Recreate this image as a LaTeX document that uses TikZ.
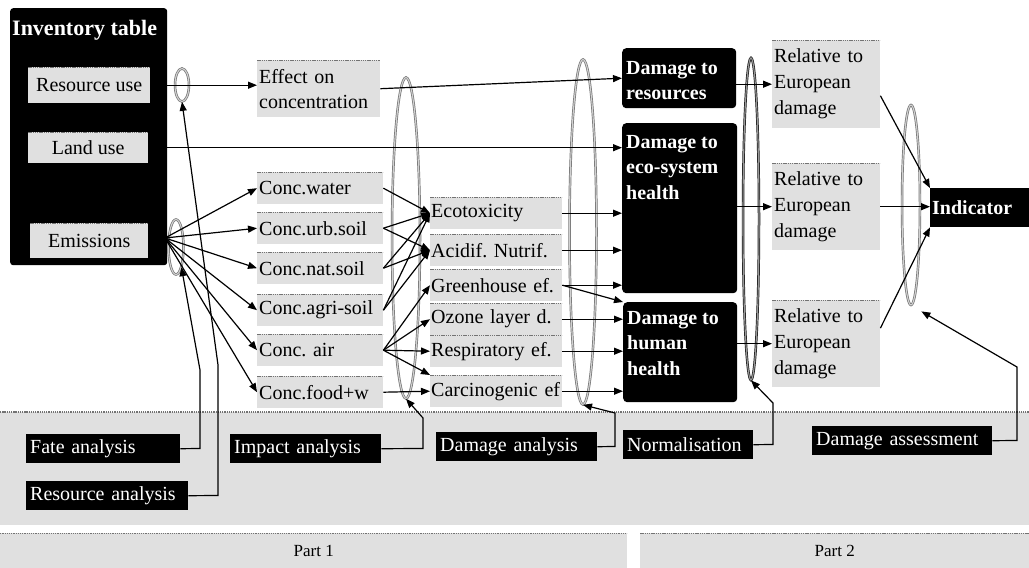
\documentclass[tikz,border=0pt]{standalone}
\usepackage{fontspec}
\setmainfont{Liberation Serif}
\usetikzlibrary{arrows.meta,shapes.geometric}
\frenchspacing
\newcommand\ftxt{\fontsize{20}{25}\selectfont}
\newcommand\frel{\fontsize{20}{26}\selectfont}
\newcommand\fbld{\fontsize{20}{25.5}\selectfont\bfseries}
\newcommand\flab{\fontsize{20}{24}\selectfont}
\newcommand\fpart{\fontsize{17}{20}\selectfont}
\begin{document}
\begin{tikzpicture}[x=1pt,y=-1pt,
  ln/.style={line width=1.2pt},
  ar/.style={ln,-{Triangle[length=9pt,width=7pt]}},
  tex/.style={draw=black!55,line width=1.6pt,dash pattern=on 1.3pt off 0.9pt},
  gbox/.style={fill=black!12, inner xsep=2pt, inner ysep=0pt, anchor=north west, font=\ftxt,
    path picture={\draw[tex] (path picture bounding box.north west) -- (path picture bounding box.north east);}},
  cbox/.style={gbox, minimum width=126pt, minimum height=32pt, text width=122pt, align=left},
  ibox/.style={gbox, inner xsep=1pt, minimum width=132pt, minimum height=32pt, text width=130pt, align=left},
  rbox/.style={gbox, font=\frel, minimum width=108pt, text width=104pt, align=left},
  dbox/.style={fill=black, rounded corners=4pt, anchor=north west, inner sep=0pt},
  dtext/.style={text=white, font=\fbld, anchor=north west, inner sep=0pt, align=left},
  lab/.style={fill=black, text=white, font=\flab, anchor=north west, inner xsep=4pt, inner ysep=0pt, minimum height=29pt, align=left},
  ov/.style={ellipse, draw=black!55, line width=0.7pt, double=black!18, double distance=1.1pt, inner sep=0pt},
]
\useasboundingbox (0,0) rectangle (1029,568);
% ---- background bands
\fill[black!12] (0,412) rectangle (1029,525);
\draw[tex] (0,412) -- (1029,412);
\node[gbox, font=\fpart, minimum width=627pt, minimum height=35pt] (p1) at (0,533) {Part 1};
\node[gbox, font=\fpart, minimum width=389pt, minimum height=35pt] (p2) at (640,533) {Part 2};

% ---- inventory table
\node[dbox, rounded corners=3pt, minimum width=157pt, minimum height=257pt] (inv) at (10,8) {};
\node[text=white, font=\fontsize{22}{26}\selectfont\bfseries, anchor=west, inner sep=0pt] (invt) at (12,30) {Inventory table};
\node[gbox, minimum width=122pt, minimum height=36pt] (resuse) at (28,67) {Resource use};
\node[gbox, minimum width=120pt, minimum height=31pt] (land) at (28,132) {Land use};
\node[gbox, minimum width=118pt, minimum height=35pt] (emis) at (30,223) {Emissions};
\node[ov, minimum width=14pt, minimum height=33pt] (rsov) at (182,85) {};
\node[ov, minimum width=15pt, minimum height=55pt] (emov) at (176,247) {};
\coordinate (fan) at (165,238);

% ---- big ellipses
\node[ov, minimum width=28pt, minimum height=321pt] (e1) at (406,238) {};
\node[ov, minimum width=27pt, minimum height=345pt] (e2) at (583,232) {};
\node[ov, draw=black!90, double=black!40, minimum width=16pt, minimum height=322pt] (e3) at (751,219) {};
\node[ov, minimum width=18pt, minimum height=200pt] (e4) at (911,205) {};

% ---- fate column
\node[gbox, minimum width=123pt, minimum height=57pt, text width=119pt, align=left] (effect) at (257,60) {Effect on\\concentration};
\node[cbox] (cw) at (257,172) {Conc.water};
\node[cbox] (cu) at (257,212) {Conc.urb.soil};
\node[cbox] (cn) at (257,252) {Conc.nat.soil};
\node[cbox] (ca) at (257,294) {Conc.agri-soil};
\node[cbox] (cair) at (257,334) {Conc. air};
\node[cbox] (cf) at (257,376) {Conc.food+w};

% ---- impact column
\node[ibox] (eco) at (430,197) {Ecotoxicity};
\node[ibox] (acid) at (430,234) {Acidif. Nutrif.};
\node[ibox] (green) at (430,269) {Greenhouse ef.};
\node[ibox] (ozone) at (430,303) {Ozone layer d.};
\node[ibox] (resp) at (430,335) {Respiratory ef.};
\node[ibox] (carc) at (430,375) {Carcinogenic ef};

% ---- damage column
\node[dbox, minimum width=114pt, minimum height=60pt] (dres) at (622,48) {};
\node[dtext] (drest) at (626,61) {Damage to\\resources};
\node[dbox, minimum width=115pt, minimum height=170pt] (deco) at (622,123) {};
\node[dtext] (decot) at (626,135) {Damage to\\eco-system\\health};
\node[dbox, minimum width=114pt, minimum height=100pt] (hum) at (623,302) {};
\node[dtext] (humt) at (627,311) {Damage to\\human\\health};

% ---- normalisation column
\node[rbox, minimum height=88pt] (r1) at (772,40) {Relative to\\European\\damage};
\node[rbox, minimum height=87pt] (r2) at (772,163) {Relative to\\European\\damage};
\node[rbox, minimum height=87pt] (r3) at (772,300) {Relative to\\European\\damage};
\node[fill=black, text=white, font=\fbld, anchor=north west, inner xsep=2pt, inner ysep=0pt,
  minimum width=99pt, minimum height=39pt, text width=95pt, align=left] (ind) at (930,188) {Indicator};

% ---- connectors, part 1
\draw[ar] (resuse.east) -- (resuse.east -| effect.west);
\draw[ar] (effect.east) -- (dres.west);
\draw[ar] (land.east) -- (land.east -| deco.west);
\foreach \c in {cw,cu,cn,ca,cair,cf} \draw[ar] (fan) -- (\c.west);
\draw[ar] (cw.east) -- (eco.west);
\draw[ar] (cu.east) -- (eco.west);
\draw[ar] (cu.east) -- (acid.west);
\draw[ar] (cn.east) -- (eco.west);
\draw[ar] (cn.east) -- (acid.west);
\draw[ar] (ca.east) -- (eco.west);
\draw[ar] (ca.east) -- (acid.west);
\draw[ar] (cair.east) -- (green.west);
\draw[ar] (cair.east) -- (ozone.west);
\draw[ar] (cair.east) -- (resp.west);
\draw[ar] (cair.east) -- (carc.north west);
\draw[ar] (cf.east) -- (carc.west);
\draw[ar] (eco.east) -- (eco.east -| deco.west);
\draw[ar] (acid.east) -- (acid.east -| deco.west);
\draw[ar] (green.east) -- (green.east -| deco.west);
\draw[ar] (green.east) -- (hum.north west);
\draw[ar] (ozone.east) -- (ozone.east -| hum.west);
\draw[ar] (resp.east) -- (resp.east -| hum.west);
\draw[ar] (carc.east) -- (carc.east -| hum.west);

% ---- connectors, part 2
\draw[ar] (dres.east |- r1.west) -- (r1.west);
\draw[ar] (deco.east |- r2.west) -- (r2.west);
\draw[ar] (hum.east |- r3.west) -- (r3.west);
\draw[ar] (r1.-12) -- (ind.north west);
\draw[ar] (r2.east) -- (r2.east -| ind.west);
\draw[ar] (r3.16) -- (ind.south west);

% ---- bottom labels
\node[lab, text width=146pt] (fate) at (26,434) {Fate analysis};
\node[lab, text width=154pt] (resan) at (26,481) {Resource analysis};
\node[lab, text width=143pt] (impan) at (230,434) {Impact analysis};
\node[lab, text width=153pt] (daman) at (436,432) {Damage analysis};
\node[lab, text width=122pt] (norm) at (623,430) {Normalisation};
\node[lab, text width=172pt] (dass) at (812,426) {Damage assessment};

\coordinate (fa1) at (200,448.5); \coordinate (fa2) at (200,370);
\coordinate (ra1) at (218,495.5); \coordinate (ra2) at (218,365);
\coordinate (ia1) at (423,448.5); \coordinate (ia2) at (423,418);
\coordinate (da1) at (615,446.5); \coordinate (da2) at (615,413);
\coordinate (na1) at (773,444.5); \coordinate (na2) at (773,403);
\coordinate (sa1) at (1017,440.5); \coordinate (sa2) at (1017,367);
\draw[ar] (fate.east) -- (fa1) -- (fa2) -- (emov.-75);
\draw[ar] (resan.east) -- (ra1) -- (ra2) -- (rsov.south);
\draw[ar] (impan.east) -- (ia1) -- (ia2) -- (e1.south);
\draw[ar] (daman.east) -- (da1) -- (da2) -- (e2.south);
\draw[ar] (norm.east) -- (na1) -- (na2) -- (e3.south);
\draw[ar, shorten >=12pt] (dass.east) -- (sa1) -- (sa2) -- (e4.south);
\end{tikzpicture}
\end{document}
